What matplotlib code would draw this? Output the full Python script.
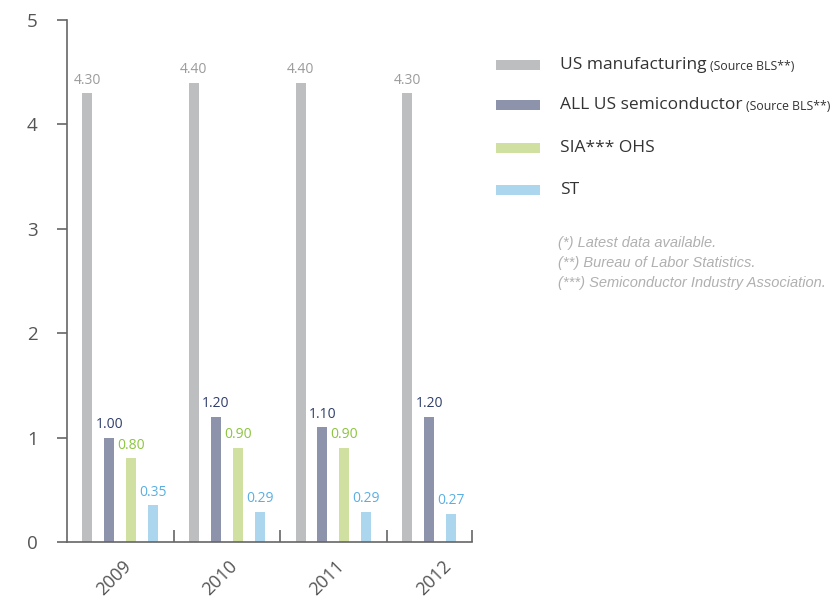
import matplotlib
matplotlib.use("Agg")
import matplotlib.pyplot as plt
from matplotlib.patches import Rectangle

plt.rcParams['font.family'] = ['Open Sans', 'DejaVu Sans']

years = ["2009", "2010", "2011", "2012"]
us_manufacturing = [4.30, 4.40, 4.40, 4.30]
all_us_semiconductor = [1.00, 1.20, 1.10, 1.20]
sia_ohs = [0.80, 0.90, 0.90, None]
st = [0.35, 0.29, 0.29, 0.27]

series_names = ["US manufacturing", "ALL US semiconductor", "SIA*** OHS", "ST"]
series_notes = ["(Source BLS**)", "(Source BLS**)", "", ""]
footnotes = ["(*) Latest data available.",
             "(**) Bureau of Labor Statistics.",
             "(***) Semiconductor Industry Association."]

bar_colors = ["#bdbec0", "#8d93ab", "#cfe0a0", "#acd6ee"]
label_colors = ["#9b9b9b", "#2f3e6b", "#8cc43f", "#5aafe2"]

W, H = 839, 601
fig = plt.figure(figsize=(W / 100, H / 100), dpi=100)
ax = fig.add_axes([67 / W, 1 - 542 / H, (472 - 67) / W, (542 - 20) / H])

all_series = [us_manufacturing, all_us_semiconductor, sia_ohs, st]
step = 0.206
width = 0.094
for i, yr in enumerate(years):
    present = [k for k in range(4) if all_series[k][i] is not None]
    for slot, k in enumerate(present):
        x = i + (slot - 1.5) * step
        v = all_series[k][i]
        ax.bar(x, v, width=width, color=bar_colors[k], linewidth=0)
        ax.annotate(f"{v:.2f}", (x, v), xytext=(0, 4), textcoords="offset points",
                    ha="center", va="bottom", fontsize=10, color=label_colors[k])

ax.set_xlim(-0.5, 3.3)
ax.set_ylim(0, 5)
ax.set_yticks([0, 1, 2, 3, 4, 5])
ax.set_yticklabels(["0", "1", "2", "3", "4", "5"])
ax.tick_params(axis="y", length=7, width=1.2, color="#666666", labelsize=13.5,
               labelcolor="#555555", pad=14)
ax.set_xticks([0.5, 1.5, 2.5, 3.3])
ax.set_xticklabels([])
ax.tick_params(axis="x", direction="in", length=9, width=1.2, color="#666666")
for s in ["top", "right"]:
    ax.spines[s].set_visible(False)
for s in ["left", "bottom"]:
    ax.spines[s].set_color("#666666")
    ax.spines[s].set_linewidth(1.2)

for i, yr in enumerate(years):
    ax.text(i - 0.06, -0.345, yr, rotation=45, ha="center", va="center",
            fontsize=13, color="#555555", rotation_mode="anchor")

# legend drawn in figure pixel coordinates
legend_y = [65, 105, 148, 190]
for k, name in enumerate(series_names):
    yc = legend_y[k]
    fig.add_artist(Rectangle((496 / W, 1 - (yc + 5) / H), 44 / W, 10 / H,
                             transform=fig.transFigure, color=bar_colors[k], linewidth=0))
    t = fig.text(560 / W, 1 - yc / H, name, fontsize=12.5, color="#333333",
                 ha="left", va="center")
    if series_notes[k]:
        fig.canvas.draw()
        bb = t.get_window_extent()
        fig.text((bb.x1 + 4) / W, 1 - (yc + 1) / H, series_notes[k], fontsize=8.8,
                 color="#333333", ha="left", va="center")

for j, line in enumerate(footnotes):
    fig.text(558 / W, 1 - (243 + 20 * j) / H, line, fontsize=10.5, color="#b0b0b0",
             style="italic", ha="left", va="center", family="Liberation Sans")

fig.savefig("out.png", dpi=100, facecolor="white")
